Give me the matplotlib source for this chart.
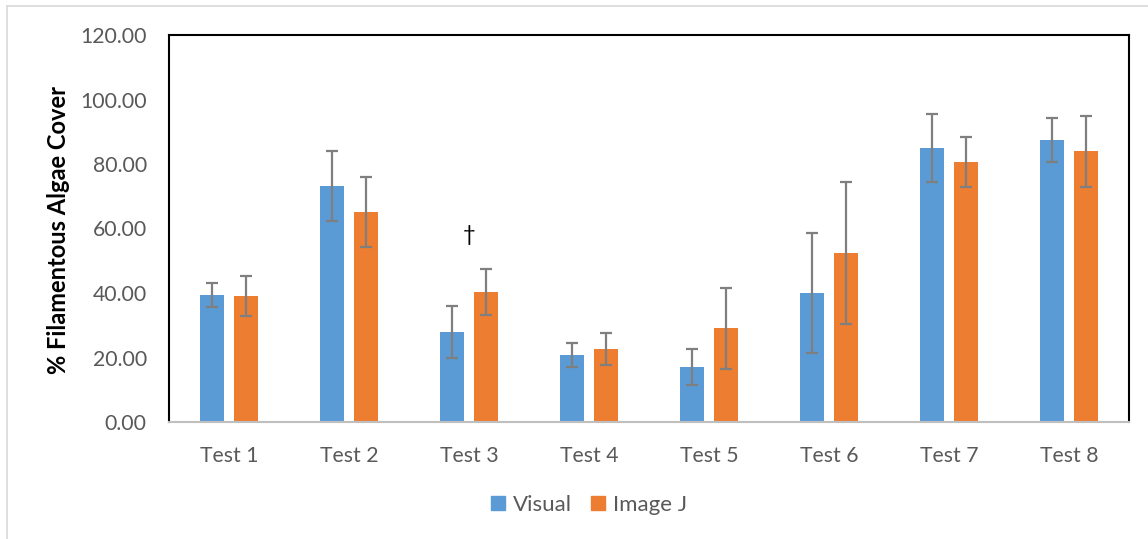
import matplotlib.pyplot as plt
import numpy as np
from matplotlib.lines import Line2D

plt.rcParams['font.family'] = ['Lato', 'DejaVu Sans']

tests = ['Test 1', 'Test 2', 'Test 3', 'Test 4', 'Test 5', 'Test 6', 'Test 7', 'Test 8']
visual = [39.4, 73.2, 27.9, 20.8, 17.0, 40.0, 85.0, 87.4]
visual_err = [3.7, 10.8, 8.0, 3.7, 5.5, 18.6, 10.5, 6.8]
imagej = [39.1, 65.1, 40.3, 22.6, 29.1, 52.4, 80.6, 84.0]
imagej_err = [6.2, 10.8, 7.0, 5.0, 12.6, 22.0, 7.8, 11.0]
yticks = [0, 20, 40, 60, 80, 100, 120]

blue = '#5B9BD5'
orange = '#ED7D31'
grey_err = '#7F7F7F'
txt = '#595959'

fig = plt.figure(figsize=(11.48, 5.39), dpi=100)
ax = fig.add_axes([169 / 1148, 1 - 422 / 539, 960 / 1148, 387 / 539])

x = np.arange(len(tests))
w = 0.195
off = 0.142
ekw = dict(ecolor=grey_err, elinewidth=1.6, capsize=4.3, capthick=1.6)
ax.bar(x - off, visual, w, color=blue, yerr=visual_err, error_kw=ekw, zorder=2)
ax.bar(x + off, imagej, w, color=orange, yerr=imagej_err, error_kw=ekw, zorder=2)

ax.text(2, 58, '†', ha='center', va='center', fontsize=16, color='black')

ax.set_xlim(-0.5, len(tests) - 0.5)
ax.set_ylim(0, 120)
ax.set_yticks(yticks)
ax.set_yticklabels([f'{v:.2f}' for v in yticks])
ax.set_xticks(x)
ax.set_xticklabels(tests)
ax.tick_params(axis='both', length=0, labelsize=15.3, labelcolor=txt)
ax.tick_params(axis='y', pad=16)
ax.tick_params(axis='x', pad=17)

for s in ['left', 'top', 'right']:
    ax.spines[s].set_color('black')
    ax.spines[s].set_linewidth(1.5)
ax.spines['bottom'].set_color('#BFBFBF')
ax.spines['bottom'].set_linewidth(1.5)

fig.text(59 / 1148, 1 - 230 / 539, '% Filamentous Algae Cover', rotation=90,
         ha='center', va='center', fontsize=17, fontweight='bold', color='black')

handles = [Line2D([], [], marker='s', linestyle='', markersize=10, color=blue),
           Line2D([], [], marker='s', linestyle='', markersize=10, color=orange)]
leg = fig.legend(handles, ['Visual', 'Image J'], loc='center', ncol=2,
                 bbox_to_anchor=(587 / 1148, 1 - 505 / 539), frameon=False, fontsize=16,
                 handletextpad=0.15, columnspacing=0.7, handlelength=1.0)
for t in leg.get_texts():
    t.set_color(txt)

# light outer frame (left and top edges visible)
fig.add_artist(Line2D([7 / 1148, 7 / 1148], [0, 1 - 6 / 539], color='#D9D9D9', lw=1.2))
fig.add_artist(Line2D([7 / 1148, 1], [1 - 6 / 539, 1 - 6 / 539], color='#D9D9D9', lw=1.2))

fig.savefig('out.png', dpi=100)
